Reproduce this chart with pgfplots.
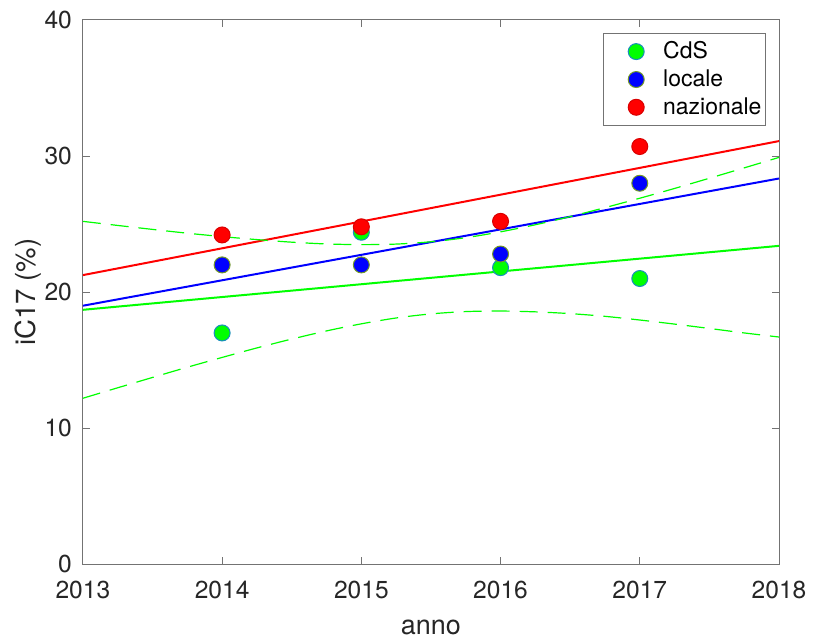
\documentclass[border=0pt]{standalone}
\usepackage{fontspec}
\setmainfont{TeX Gyre Heros}
\usepackage{pgfplots}
\pgfplotsset{compat=1.18}
\definecolor{axgray}{rgb}{0.15,0.15,0.15}
\definecolor{boxgray}{rgb}{0.45,0.45,0.45}
\definecolor{mgreen}{rgb}{0,1,0}
\definecolor{edgecds}{rgb}{0.1,0.55,0.75}
\definecolor{edgeloc}{rgb}{0.45,0.6,0.15}
\begin{document}
\begin{tikzpicture}
\begin{axis}[
  scale only axis,
  width=348.5pt, height=272.5pt,
  xmin=2013, xmax=2018, ymin=0, ymax=40,
  xtick={2013,2014,2015,2016,2017,2018},
  ytick={0,10,20,30,40},
  /pgf/number format/1000 sep={},
  /pgf/number format/assume math mode=true,
  font=\fontsize{12.3}{14}\selectfont,
  tick label style={text=axgray, font=\fontsize{12.3}{14}\selectfont},
  xticklabel style={yshift=-5pt},
  yticklabel style={xshift=-2pt},
  tick align=inside,
  major tick length=3.5pt,
  axis line style={boxgray, line width=0.5pt},
  every tick/.style={boxgray, line width=0.5pt},
  xlabel={anno}, ylabel={iC17 (\%)},
  xlabel style={at={(axis description cs:0.5,-0.1284)}, anchor=base, text=axgray, font=\fontsize{13.5}{15}\selectfont},
  ylabel style={at={(axis description cs:-0.079,0.5)}, anchor=center, text=axgray, font=\fontsize{13.8}{15}\selectfont},
  legend style={at={(axis description cs:0.9813,0.976)}, anchor=north east,
    draw=boxgray, line width=0.5pt, font=\fontsize{11.5}{13}\selectfont,
    row sep=0pt, column sep=0pt, inner xsep=1pt, inner ysep=2pt,
    nodes={inner xsep=1pt, inner ysep=2pt}},
  legend image code/.code={\path[draw=none] (0pt,0pt) -- (28pt,0pt); \draw[#1] plot[only marks] coordinates {(15.5pt,0pt)};},
  legend cell align=left,
  clip=true,
]
% fit lines
\addplot[red, line width=1pt, forget plot] coordinates {(2013,21.25) (2018,31.10)};
\addplot[blue, line width=1pt, forget plot] coordinates {(2013,19.00) (2018,28.35)};
\addplot[mgreen, line width=1pt, forget plot] coordinates {(2013,18.70) (2018,23.40)};
% confidence bands (CdS)
\addplot[mgreen, line width=0.6pt, dash pattern=on 9pt off 5pt, smooth, forget plot] coordinates {
(2013,25.20) (2013.25,24.90) (2013.5,24.61) (2013.75,24.33) (2014,24.08)
(2014.25,23.86) (2014.5,23.67) (2014.75,23.54) (2015,23.49) (2015.25,23.53)
(2015.5,23.70) (2015.75,24.00) (2016,24.43) (2016.25,24.95) (2016.5,25.55)
(2016.75,26.21) (2017,26.90) (2017.25,27.62) (2017.5,28.37) (2017.75,29.13) (2018,29.90)};
\addplot[mgreen, line width=0.6pt, dash pattern=on 9pt off 5pt, smooth, forget plot] coordinates {
(2013,12.20) (2013.25,12.97) (2013.5,13.73) (2013.75,14.48) (2014,15.20)
(2014.25,15.90) (2014.5,16.55) (2014.75,17.15) (2015,17.67) (2015.25,18.10)
(2015.5,18.40) (2015.75,18.57) (2016,18.61) (2016.25,18.55) (2016.5,18.42)
(2016.75,18.22) (2017,17.95) (2017.25,17.65) (2017.5,17.33) (2017.75,17.00) (2018,16.70)};
% points
\addplot[only marks, mark=*, mark size=4pt, mark options={fill=mgreen, draw=edgecds, line width=0.5pt}]
  coordinates {(2014,17.0) (2015,24.4) (2016,21.8) (2017,21.0)};
\addlegendentry{CdS}
\addplot[only marks, mark=*, mark size=4pt, mark options={fill=blue, draw=edgeloc, line width=0.5pt}]
  coordinates {(2014,22.0) (2015,22.0) (2016,22.8) (2017,28.0)};
\addlegendentry{locale}
\addplot[only marks, mark=*, mark size=4pt, mark options={fill=red, draw=red!85!black, line width=0.5pt}]
  coordinates {(2014,24.2) (2015,24.8) (2016,25.2) (2017,30.7)};
\addlegendentry{nazionale}
\end{axis}
\path (current axis.south west) ++(-41.5pt,-37pt) coordinate (bbsw);
\path (current axis.north east) ++(16.5pt,10pt) coordinate (bbne);
\path[use as bounding box] (bbsw) rectangle (bbne);
\end{tikzpicture}
\end{document}
